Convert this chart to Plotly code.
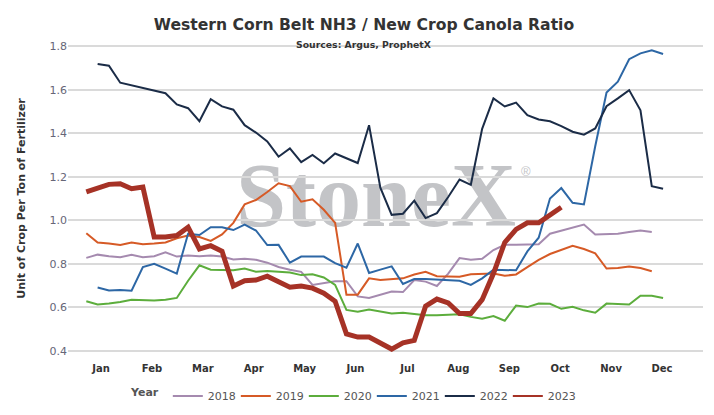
import plotly.graph_objs as go

# weekly index across the season, 0 = first week of January
weeks = list(range(52))

month_labels = ['Jan', 'Feb', 'Mar', 'Apr', 'May', 'Jun',
                'Jul', 'Aug', 'Sep', 'Oct', 'Nov', 'Dec']
month_pos = [1.3, 5.8, 10.3, 14.8, 19.3, 23.8, 28.4, 32.9, 37.4, 41.9, 46.4, 50.9]

y_ticks = [0.4, 0.6, 0.8, 1.0, 1.2, 1.4, 1.6, 1.8]

r2018 = [0.827, 0.842, 0.835, 0.83, 0.841, 0.83, 0.835, 0.853, 0.833, 0.838,
         0.835, 0.838, 0.833, 0.82, 0.823, 0.818, 0.805, 0.785, 0.773, 0.763,
         0.703, 0.71, 0.72, 0.72, 0.65, 0.643, 0.658, 0.673, 0.67, 0.725,
         0.718, 0.698, 0.755, 0.826, 0.818, 0.823, 0.863, 0.887, 0.887, 0.887,
         0.89, 0.938, 0.953, 0.965, 0.98, 0.935, 0.938, 0.938, 0.946, 0.953, 0.946, None]

r2019 = [0.94, 0.898, 0.893, 0.886, 0.898, 0.89, 0.893, 0.898, 0.917, 0.93,
         0.923, 0.905, 0.935, 0.988, 1.073, 1.093, 1.13, 1.17, 1.157, 1.085,
         1.096, 1.048, 0.988, 0.658, 0.658, 0.733, 0.725, 0.728, 0.733, 0.751,
         0.763, 0.743, 0.743, 0.74, 0.752, 0.755, 0.755, 0.745, 0.751, 0.785,
         0.818, 0.845, 0.865, 0.883, 0.868, 0.848, 0.778, 0.781, 0.788, 0.781, 0.766, None]

r2020 = [0.628, 0.613, 0.617, 0.624, 0.635, 0.632, 0.631, 0.635, 0.643, 0.722,
         0.793, 0.773, 0.773, 0.77, 0.778, 0.763, 0.767, 0.763, 0.76, 0.748,
         0.752, 0.737, 0.703, 0.588, 0.58, 0.59, 0.58, 0.572, 0.575, 0.568,
         0.563, 0.563, 0.566, 0.568, 0.556, 0.548, 0.56, 0.538, 0.608, 0.601,
         0.617, 0.616, 0.593, 0.602, 0.586, 0.575, 0.617, 0.616, 0.613, 0.653, 0.653, 0.643]

r2021 = [None, 0.691, 0.677, 0.68, 0.676, 0.785, 0.80, 0.778, 0.755, 0.938,
         0.932, 0.968, 0.968, 0.955, 0.98, 0.953, 0.886, 0.887, 0.805, 0.833,
         0.833, 0.833, 0.803, 0.782, 0.893, 0.758, 0.773, 0.788, 0.707, 0.73,
         0.73, 0.728, 0.725, 0.722, 0.703, 0.733, 0.773, 0.77, 0.77, 0.857,
         0.92, 1.10, 1.148, 1.08, 1.073, 1.34, 1.587, 1.637, 1.74, 1.767, 1.781, 1.764]

r2022 = [None, 1.718, 1.71, 1.632, 1.62, 1.605, 1.595, 1.584, 1.532, 1.515,
         1.455, 1.556, 1.523, 1.508, 1.437, 1.403, 1.362, 1.292, 1.33, 1.267,
         1.30, 1.262, 1.307, 1.285, 1.263, 1.437, 1.15, 1.025, 1.03, 1.09,
         1.01, 1.033, 1.107, 1.187, 1.163, 1.42, 1.56, 1.523, 1.541, 1.483,
         1.463, 1.455, 1.433, 1.407, 1.393, 1.422, 1.524, 1.56, 1.598, 1.505, 1.157, 1.145]

r2023 = [1.13, 1.148, 1.165, 1.168, 1.145, 1.153, 0.923, 0.923, 0.93, 0.968,
         0.868, 0.883, 0.857, 0.698, 0.722, 0.725, 0.743, 0.718, 0.692, 0.698,
         0.688, 0.665, 0.628, 0.478, 0.463, 0.463, 0.433, 0.408, 0.437, 0.448,
         0.605, 0.638, 0.62, 0.571, 0.571, 0.635, 0.755, 0.898, 0.958, 0.988,
         0.988, 1.025, 1.06, None, None, None, None, None, None, None, None, None]

series = [('2018', r2018, '#a58aaf', 2),
          ('2019', r2019, '#d65a26', 2),
          ('2020', r2020, '#5cad3c', 2),
          ('2021', r2021, '#2d67a5', 2),
          ('2022', r2022, '#1b2c47', 2),
          ('2023', r2023, '#a63226', 5)]

data = []
for name, vals, color, w in series:
    # the legend swatch stays thin even for the bold current year
    data.append(go.Scatter(x=weeks, y=vals, name=name, mode='lines',
                           legendgroup=name, showlegend=(w == 2),
                           line=dict(color=color, width=w)))
    if w != 2:
        data.append(go.Scatter(x=[None], y=[None], name=name, mode='lines',
                               legendgroup=name, line=dict(color=color, width=2)))

font = 'DejaVu Sans'

layout = go.Layout(
    width=714, height=415,
    margin=dict(l=60, r=19, t=35.5, b=64),
    paper_bgcolor='white', plot_bgcolor='white',
    title=dict(text='<b>Western Corn Belt NH3 / New Crop Canola Ratio</b>',
               font=dict(family=font, size=15.6, color='#333333'),
               x=0.4986, xanchor='center', y=0.961, yanchor='middle'),
    xaxis=dict(range=[-1.62, 54.53], tickvals=month_pos,
               ticktext=['<b>%s</b>' % m for m in month_labels],
               tickfont=dict(family=font, size=10, color='#333333'),
               showgrid=False, zeroline=False, showline=False,
               ticks='', ticklabelstandoff=8, automargin=False),
    yaxis=dict(range=[0.39, 1.81], tickvals=y_ticks,
               ticktext=['%.1f' % v for v in y_ticks],
               tickfont=dict(family=font, size=11, color='#666677'),
               gridcolor='#dadada', gridwidth=1.5, automargin=False,
               zeroline=False, showline=False, ticks='',
               title=dict(text='<b>Unit of Crop Per Ton of Fertilizer</b>',
                          font=dict(family=font, size=11, color='#333333'),
                          standoff=21)),
    legend=dict(orientation='h', x=0.448, xanchor='center',
                y=-0.139, yanchor='middle', entrywidth=23, entrywidthmode='pixels',
                title=dict(text='<b>Year</b>', font=dict(family=font, size=11, color='#555555')),
                font=dict(family=font, size=11, color='#555555')),
    showlegend=True,
    annotations=[dict(text='<b>Sources: Argus, ProphetX</b>', xref='paper', yref='paper',
                      x=0.4646, y=0.9984, xanchor='center', yanchor='middle',
                      showarrow=False,
                      font=dict(family=font, size=9.3, color='#333333'))],
    shapes=[dict(type='rect', xref='paper', yref='paper',
                 x0=0.30, x1=0.67, y0=0.438, y1=0.648, layer='below',
                 line=dict(width=0), fillcolor='rgba(0,0,0,0)',
                 label=dict(text='<b>StoneX</b>', textposition='middle center',
                            font=dict(family='Liberation Serif', size=90, color='#c3c4c7'))),
            dict(type='rect', xref='paper', yref='paper',
                 x0=0.701, x1=0.741, y0=0.559, y1=0.619, layer='below',
                 line=dict(width=0), fillcolor='rgba(0,0,0,0)',
                 label=dict(text='®', textposition='middle center',
                            font=dict(family='Liberation Sans', size=13, color='#c3c4c7')))]
)

fig = go.Figure(data=data, layout=layout)
fig.write_html('out.html')
